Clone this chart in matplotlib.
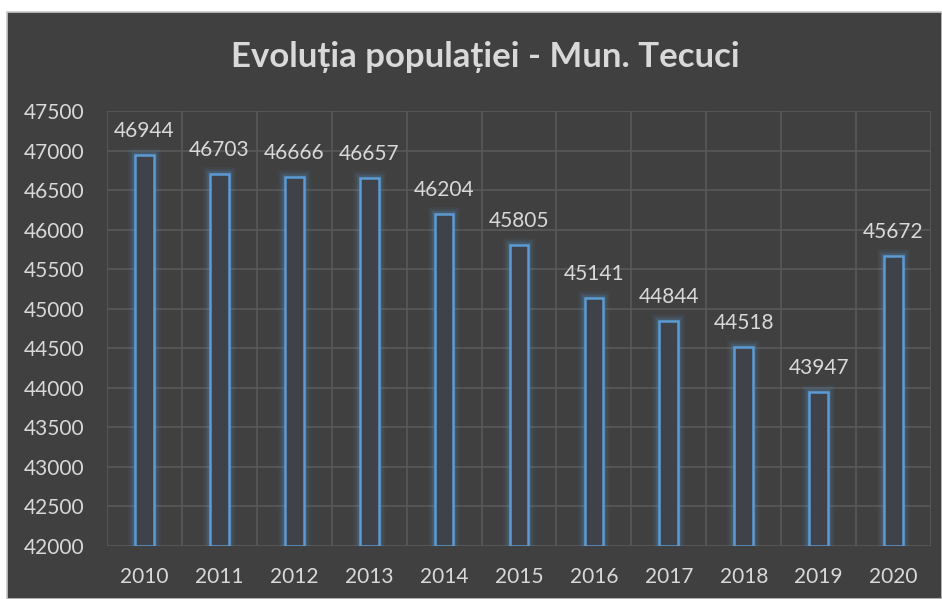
import matplotlib
matplotlib.use("Agg")
import matplotlib.pyplot as plt
from matplotlib.patches import Rectangle

years = ["2010", "2011", "2012", "2013", "2014", "2015", "2016", "2017", "2018", "2019", "2020"]
population = [46944, 46703, 46666, 46657, 46204, 45805, 45141, 44844, 44518, 43947, 45672]
y_ticks = list(range(42000, 48000, 500))

W, H = 942, 599
plt.rcParams['font.family'] = ['Lato', 'DejaVu Sans']
txt = '#d9d9d9'
bg = '#404040'
blue = '#5b9bd5'

fig = plt.figure(figsize=(W / 100, H / 100), dpi=100, facecolor='white')
# dark chart area with thin light border
fig.patches.append(Rectangle((7 / W, 0), 1 - 7 / W, 1 - 12 / H, transform=fig.transFigure,
                             facecolor=bg, edgecolor='#c8c8c8', lw=1.2, zorder=-5))

ax = fig.add_axes([107 / W, 1 - 546 / H, (931 - 107) / W, (546 - 111) / H])
ax.set_zorder(2)
ax.set_facecolor('none')
x = list(range(len(years)))
base = 42000
heights = [v - base for v in population]

# glow
for lw, a in [(10, 0.06), (7, 0.10), (4, 0.18)]:
    ax.bar(x, heights, bottom=base, width=0.25, facecolor='none', edgecolor=blue, lw=lw, alpha=a, zorder=2)
ax.bar(x, heights, bottom=base, width=0.25, facecolor='#3f4349', edgecolor=blue, lw=1.8, zorder=3)

for xi, v in zip(x, population):
    ax.annotate(str(v), (xi, v), xytext=(0, 10), textcoords='offset points',
                ha='center', va='bottom', color=txt, fontsize=15, zorder=4)

ax.set_xlim(-0.5, len(years) - 0.5)
ax.set_ylim(42000, 47500)
ax.set_yticks(y_ticks)
ax.set_yticklabels([str(t) for t in y_ticks])
ax.set_xticks(x)
ax.set_xticklabels(years)
ax.tick_params(axis='both', colors=txt, labelsize=15, length=0)
ax.tick_params(axis='y', pad=16)
ax.tick_params(axis='x', pad=15)

ax.set_xticks([i + 0.5 for i in range(-1, len(years))], minor=True)
ax.grid(True, axis='y', which='major', color='#595959', lw=1.2, zorder=1)
ax.grid(True, axis='x', which='minor', color='#595959', lw=1.2, zorder=1)
ax.grid(False, axis='x', which='major')
ax.tick_params(which='minor', length=0)
for s in ax.spines.values():
    s.set_visible(False)

fig.text(485 / W, 1 - 57 / H, 'Evoluția populației - Mun. Tecuci', ha='center', va='center',
         color=txt, fontsize=25, fontweight='bold')

fig.savefig('out.png', dpi=100, facecolor='white')
